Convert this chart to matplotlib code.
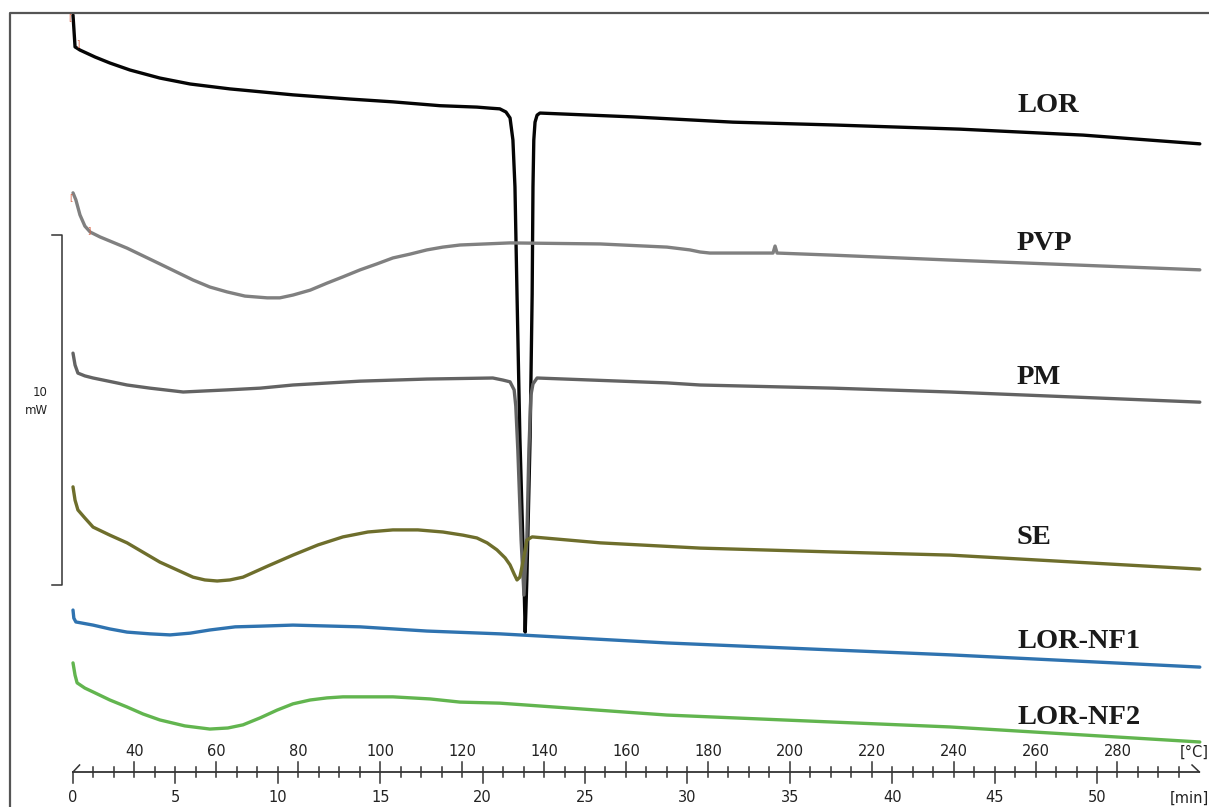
import matplotlib.pyplot as plt
import numpy as np
from matplotlib.transforms import Affine2D, blended_transform_factory

W, H = 1209, 807

# DSC thermograms: temperature [°C] vs heat flow [mW] (curves already shifted)
lor_T = [25.0, 25.5, 26.7, 30.4, 34.0, 38.9, 46.2, 53.6, 63.3, 78.7, 92.6, 103.1, 114.6,
         123.6, 126.8, 129.2, 130.7, 131.7, 132.4, 132.9, 133.4, 134.1, 135.1, 135.4,
         135.8, 136.6, 137.1, 137.3, 137.5, 137.8, 138.3, 139.0, 161.7, 186.1, 210.5,
         241.6, 271.6, 300.1]
lor_hf = [21.57, 20.66, 20.57, 20.37, 20.20, 20.00, 19.77, 19.60, 19.46, 19.29, 19.17, 19.09, 18.98,
          18.94, 18.91, 18.89, 18.80, 18.63, 18.00, 16.66, 13.60, 9.51, 5.43, 3.94,
          5.43, 9.51, 13.60, 16.66, 18.00, 18.51, 18.71, 18.77, 18.66, 18.51, 18.43,
          18.31, 18.14, 17.89]

pvp_T = [25.0, 25.7, 26.7, 27.9, 29.2, 31.6, 38.2, 46.2, 54.3, 58.4, 62.6, 67.0, 72.4, 75.5,
         78.7, 82.9, 87.0, 90.9, 95.1, 99.2, 103.1, 107.3, 111.4, 115.3, 119.5, 125.6,
         131.7, 153.7, 170.0, 175.6, 178.1, 180.5, 194.4, 195.9, 196.4, 196.9, 210.5,
         239.1, 300.1]
pvp_hf = [16.49, 16.29, 15.86, 15.54, 15.37, 15.23, 14.91, 14.46, 14.00, 13.80, 13.66, 13.54, 13.49, 13.49,
          13.57, 13.71, 13.91, 14.09, 14.29, 14.46, 14.63, 14.74, 14.86, 14.94, 15.00, 15.03,
          15.06, 15.03, 14.94, 14.86, 14.80, 14.77, 14.77, 14.77, 14.97, 14.77, 14.71,
          14.57, 14.29]

pm_T = [25.0, 25.5, 26.2, 27.9, 29.9, 38.2, 43.8, 51.9, 57.2, 62.6, 70.7, 78.7, 95.1, 111.4,
        127.5, 130.0, 131.7, 132.7, 133.1, 133.6, 134.4, 135.1, 135.8, 136.3, 136.8, 137.3,
        138.3, 170.0, 178.1, 210.5, 239.1, 300.1]
pm_hf = [11.91, 11.57, 11.34, 11.26, 11.20, 11.00, 10.91, 10.80, 10.83, 10.86, 10.91, 11.00, 11.11, 11.17,
         11.20, 11.14, 11.09, 10.86, 10.40, 9.14, 6.57, 5.00, 6.57, 9.14, 10.71, 11.03,
         11.20, 11.06, 11.00, 10.91, 10.80, 10.51]

se_T = [25.0, 25.5, 26.2, 27.9, 29.9, 34.0, 38.2, 46.2, 54.3, 57.2, 60.2, 63.3, 66.5, 72.6,
        78.7, 84.8, 90.9, 97.0, 103.1, 109.2, 115.3, 120.2, 123.6, 126.1, 128.5, 130.5,
        131.7, 132.7, 133.4, 134.1, 134.6, 135.4, 135.8, 137.1, 153.7, 178.1, 210.5,
        239.1, 300.1]
se_hf = [8.09, 7.71, 7.43, 7.20, 6.94, 6.71, 6.49, 5.94, 5.51, 5.43, 5.40, 5.43, 5.51, 5.83,
         6.14, 6.43, 6.66, 6.80, 6.86, 6.86, 6.80, 6.71, 6.63, 6.49, 6.29, 6.06,
         5.86, 5.60, 5.43, 5.51, 5.80, 6.29, 6.57, 6.66, 6.49, 6.34, 6.23,
         6.14, 5.74]

nf1_T = [25.0, 25.2, 25.7, 29.9, 34.0, 38.2, 43.8, 48.7, 53.6, 58.4, 64.6, 70.7, 78.7, 95.1,
         111.4, 129.2, 170.0, 210.5, 239.1, 300.1]
nf1_hf = [4.57, 4.34, 4.23, 4.14, 4.03, 3.94, 3.89, 3.86, 3.91, 4.00, 4.09, 4.11, 4.14, 4.09,
          3.97, 3.89, 3.63, 3.43, 3.29, 2.94]

nf2_T = [25.0, 25.5, 26.0, 27.9, 29.9, 34.0, 38.2, 42.1, 46.2, 52.3, 58.4, 62.8, 66.5, 70.7,
         74.8, 78.7, 82.9, 87.0, 90.9, 103.1, 112.2, 119.5, 129.2, 170.0, 210.5, 239.1, 300.1]
nf2_hf = [3.06, 2.71, 2.49, 2.34, 2.23, 2.00, 1.80, 1.60, 1.43, 1.26, 1.17, 1.20, 1.29, 1.49,
          1.71, 1.89, 2.00, 2.06, 2.09, 2.09, 2.03, 1.94, 1.91, 1.57, 1.37, 1.23, 0.80]

names = ["LOR", "PVP", "PM", "SE", "LOR-NF1", "LOR-NF2"]
colors = ["#050505", "#808080", "#636363", "#6e6e2c", "#2f73b0", "#62b54f"]
label_y = [105, 243, 378, 538, 642, 717]   # label centres in image pixels

T0, rate = 25, 5            # start temperature, heating rate [°C/min]
temp_ticks = list(range(40, 281, 20))
time_ticks = list(range(0, 51, 5))

fig = plt.figure(figsize=(W / 100, H / 100), dpi=100)
ax = fig.add_axes([0, 0, 1, 1])
ax.set_xlim(T0 - 73 / 4.096, T0 + (W - 73) / 4.096)
ax.set_ylim((770 - H) / 35, 770 / 35)
ax.axis("off")

pix = Affine2D().scale(1 / W, -1 / H).translate(0, 1) + fig.transFigure
bl = blended_transform_factory(ax.transData, pix)

curves = [(lor_T, lor_hf), (pvp_T, pvp_hf), (pm_T, pm_hf), (se_T, se_hf),
          (nf1_T, nf1_hf), (nf2_T, nf2_hf)]
for (xs, ys), c in zip(curves, colors):
    ax.plot(xs, ys, color=c, lw=2.4, solid_joinstyle="round", solid_capstyle="round")

for name, y in zip(names, label_y):
    ax.text(1017, y, name, transform=pix, ha="left", va="center", fontsize=20.5,
            fontweight="bold", family="Liberation Serif", color="#1a1a1a")

# small evaluation brackets at curve starts
for x, y, s in [(70, 18, "["), (78, 44, "]"), (71, 198, "["), (89, 231, "]")]:
    ax.text(x, y, s, transform=pix, color="#d9664a", fontsize=6, ha="center", va="center")

# frame
ax.plot([10, 10, W], [H, 13, 13], transform=pix, color="#555555", lw=1.6, clip_on=False)

# 10 mW scale bar
ax.plot([52, 62, 62, 52], [235, 235, 585, 585], transform=pix, color="#333333", lw=1.1)
ax.text(40, 392, "10", transform=pix, ha="center", va="center", fontsize=8.5, color="#222222")
ax.text(36, 410, "mW", transform=pix, ha="center", va="center", fontsize=8.5, color="#222222")

# combined temperature / time axis
ya = 772
Tend = T0 + rate * 55
ax.plot([T0, Tend], [ya, ya], transform=bl, color="#333333", lw=1.3)
ax.plot([T0, T0 + 1.6], [ya, ya - 7], transform=bl, color="#333333", lw=1.1)
ax.plot([Tend - 1.8, Tend], [ya - 7, ya], transform=bl, color="#333333", lw=1.1)
for t in range(0, 55):
    T = T0 + rate * t
    top, bot = ya - 5, ya + 5
    if T in temp_ticks:
        top = ya - 10
    if t in time_ticks:
        bot = ya + 11
        if t == 0:
            top = ya
    ax.plot([T, T], [top, bot], transform=bl, color="#333333", lw=1.1)
for T in temp_ticks:
    ax.text(T, 752, str(T), transform=bl, ha="center", va="center", fontsize=10.5, color="#222222")
for t in time_ticks:
    ax.text(T0 + rate * t, 798, str(t), transform=bl, ha="center", va="center", fontsize=10.5,
            color="#222222")
ax.text(1194, 752, "[°C]", transform=pix, ha="center", va="center", fontsize=10.5, color="#222222")
ax.text(1189, 798, "[min]", transform=pix, ha="center", va="center", fontsize=10.5, color="#222222")

fig.savefig("out.png", dpi=100)
